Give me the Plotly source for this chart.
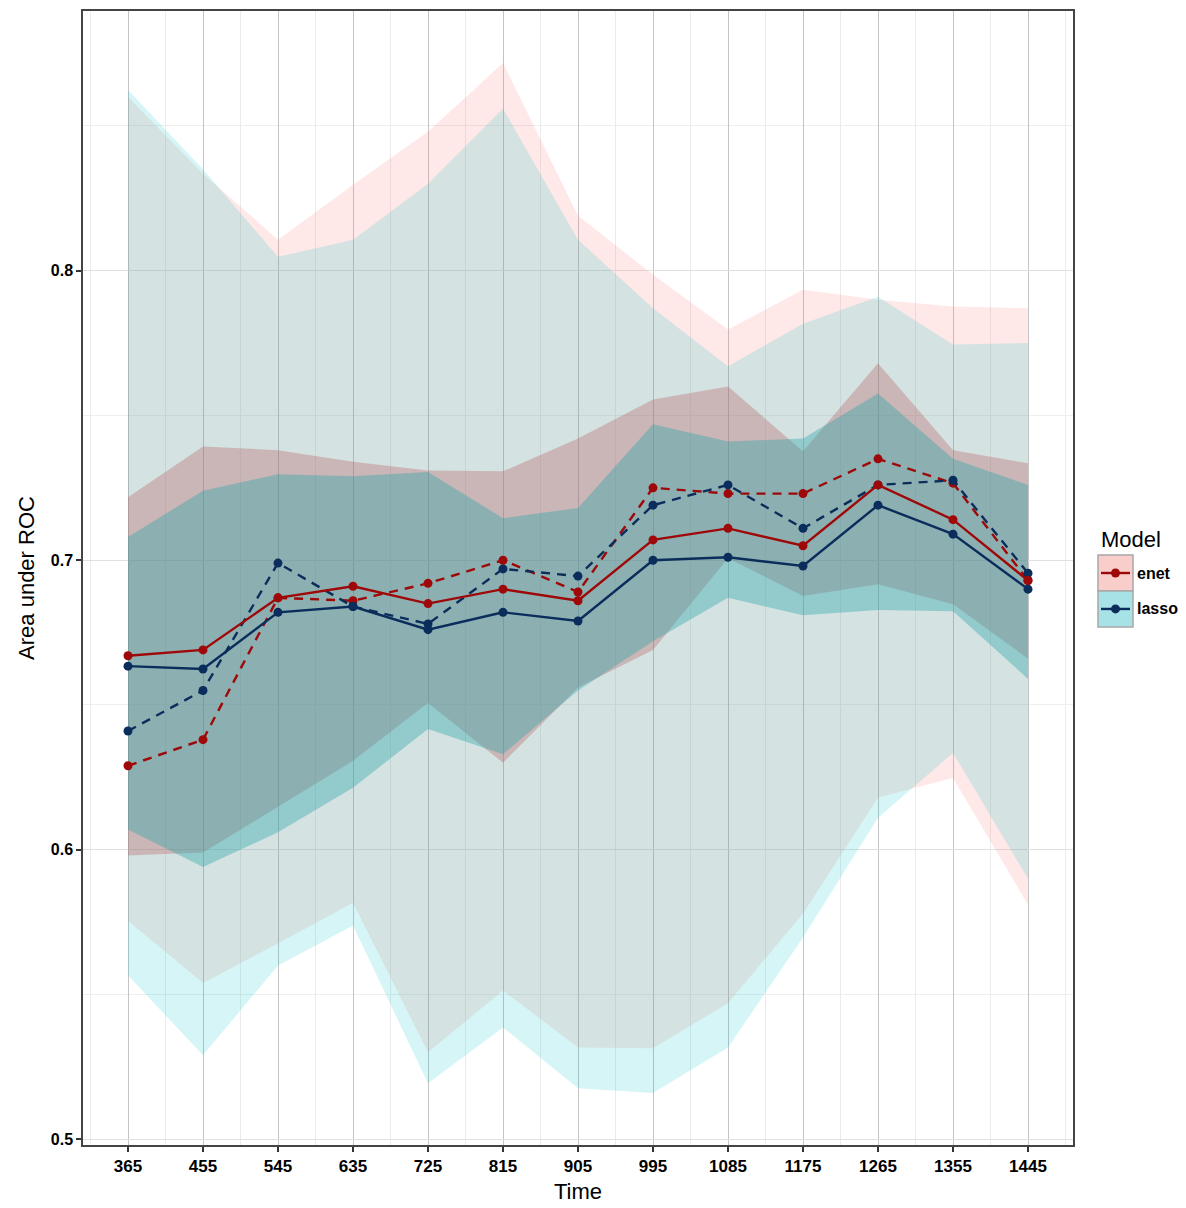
import plotly.graph_objects as go

# ---------------- data ----------------
time = [365, 455, 545, 635, 725, 815, 905, 995, 1085, 1175, 1265, 1355, 1445]
time_labels = [str(t) for t in time]

enet_mean = [0.667, 0.669, 0.687, 0.691, 0.685, 0.690, 0.686, 0.707, 0.711, 0.705, 0.726, 0.714, 0.693]
lasso_mean = [0.6634, 0.6624, 0.682, 0.684, 0.676, 0.682, 0.679, 0.700, 0.701, 0.698, 0.719, 0.709, 0.690]
enet_median = [0.629, 0.638, 0.687, 0.686, 0.692, 0.700, 0.689, 0.725, 0.723, 0.723, 0.735, 0.7266, 0.693]
lasso_median = [0.641, 0.655, 0.699, 0.684, 0.678, 0.697, 0.6945, 0.719, 0.726, 0.711, 0.726, 0.7276, 0.6955]

enet_inner_lo = [0.598, 0.599, 0.615, 0.6307, 0.6507, 0.630, 0.656, 0.669, 0.7007, 0.6876, 0.6917, 0.6848, 0.666]
enet_inner_hi = [0.7217, 0.7393, 0.738, 0.734, 0.731, 0.7307, 0.742, 0.7555, 0.760, 0.7376, 0.768, 0.738, 0.7335]
lasso_inner_lo = [0.607, 0.594, 0.606, 0.6214, 0.6417, 0.633, 0.655, 0.672, 0.687, 0.681, 0.6828, 0.6824, 0.659]
lasso_inner_hi = [0.708, 0.724, 0.7297, 0.729, 0.7305, 0.7145, 0.718, 0.747, 0.741, 0.742, 0.7576, 0.735, 0.726]

enet_outer_lo = [0.5755, 0.554, 0.5676, 0.5817, 0.530, 0.5514, 0.5317, 0.5314, 0.547, 0.578, 0.618, 0.6248, 0.581]
enet_outer_hi = [0.860, 0.8335, 0.8107, 0.8297, 0.848, 0.8717, 0.819, 0.7986, 0.7797, 0.7934, 0.790, 0.7876, 0.787]
lasso_outer_lo = [0.5566, 0.529, 0.560, 0.5738, 0.5193, 0.5386, 0.5176, 0.516, 0.5317, 0.5697, 0.611, 0.6334, 0.590]
lasso_outer_hi = [0.8624, 0.835, 0.8048, 0.8107, 0.830, 0.856, 0.8107, 0.787, 0.767, 0.7817, 0.791, 0.7745, 0.775]

y_ticks = [0.5, 0.6, 0.7, 0.8]
y_minor = [0.55, 0.65, 0.75, 0.85]
models = ["enet", "lasso"]

# ---------------- style ----------------
RED = "#9e0808"
BLUE = "#0b2d5c"
FONT = "Liberation Sans"
OFF = 8  # default page margin of the html body
W, H = 1186 - OFF, 1208 - OFF
ML, MR, MT, MB = 83 - OFF, 113, 9 - OFF, 63

fig = go.Figure()


def band(lo, hi, color):
    fig.add_trace(go.Scatter(
        x=time + time[::-1], y=hi + lo[::-1], fill="toself", fillcolor=color,
        mode="lines", line=dict(width=0, color="rgba(0,0,0,0)"),
        hoverinfo="skip", showlegend=False))


band(enet_outer_lo, enet_outer_hi, "rgba(248,118,109,0.16)")
band(lasso_outer_lo, lasso_outer_hi, "rgba(0,191,196,0.16)")
band(enet_inner_lo, enet_inner_hi, "rgba(180,95,95,0.33)")
band(lasso_inner_lo, lasso_inner_hi, "rgba(40,165,172,0.38)")


def line(y, color, dash, name):
    fig.add_trace(go.Scatter(
        x=time, y=y, mode="lines+markers", name=name,
        line=dict(color=color, width=2.4, dash=dash),
        marker=dict(size=9, color=color), showlegend=False))


line(enet_median, RED, "9px,7px", "enet")
line(lasso_median, BLUE, "9px,7px", "lasso")
line(enet_mean, RED, "solid", "enet")
line(lasso_mean, BLUE, "solid", "lasso")

x_minor = [time[0] - 45] + [t + 45 for t in time]

fig.update_layout(
    width=W, height=H,
    margin=dict(l=ML, r=MR, t=MT, b=MB),
    paper_bgcolor="white", plot_bgcolor="white",
    font=dict(family=FONT, color="black"),
    showlegend=False,
    xaxis=dict(
        range=[311, 1499], tickvals=time, ticktext=time_labels,
        showgrid=True, gridcolor="#c4c4c4", gridwidth=1.4,
        minor=dict(tickvals=x_minor, showgrid=True, gridcolor="#ebebeb", gridwidth=1.4, ticks=""),
        ticks="outside", ticklen=5, tickcolor="#333", tickwidth=1.5,
        showline=True, mirror=True, linecolor="#444", linewidth=1.5,
        zeroline=False,
        tickfont=dict(size=17, family=FONT, weight="bold", color="black"),
        title=dict(text="Time", font=dict(size=22, family=FONT), standoff=8),
    ),
    yaxis=dict(
        range=[0.498, 0.8897], tickvals=y_ticks, ticktext=[f"{v:.1f}" for v in y_ticks],
        showgrid=True, gridcolor="#e0e0e0", gridwidth=1.2,
        minor=dict(tickvals=y_minor, showgrid=True, gridcolor="#eeeeee", gridwidth=1.2, ticks=""),
        ticks="outside", ticklen=5, tickcolor="#333", tickwidth=1.5,
        showline=True, mirror=True, linecolor="#444", linewidth=1.5,
        zeroline=False,
        tickfont=dict(size=16, family=FONT, weight="bold", color="black"),
        title=dict(text="Area under ROC", font=dict(size=22, family=FONT), standoff=10),
    ),
)

# ---------------- manual legend (ggplot-style keys) ----------------
PW = W - ML - MR
PH = H - MT - MB


def px(x):
    return (x - OFF - ML) / PW


def py(y):
    return (H - MB - (y - OFF)) / PH


key_fill = {"enet": "#f9cdca", "lasso": "#a6e2e6"}
key_line = {"enet": RED, "lasso": BLUE}
shapes = []
annotations = [dict(x=px(1099), y=py(538), xref="paper", yref="paper", text="Model",
                    showarrow=False, xanchor="left", yanchor="middle",
                    font=dict(size=22, family=FONT, color="black"))]
for i, m in enumerate(models):
    top = 554 + i * 36
    bot = top + 36
    cy = (top + bot) / 2
    shapes.append(dict(type="rect", xref="paper", yref="paper",
                       x0=px(1098), x1=px(1133), y0=py(bot), y1=py(top),
                       fillcolor=key_fill[m], line=dict(color="#a8a8a8", width=1.5)))
    shapes.append(dict(type="line", xref="paper", yref="paper",
                       x0=px(1101), x1=px(1130), y0=py(cy), y1=py(cy),
                       line=dict(color=key_line[m], width=2.4)))
    shapes.append(dict(type="circle", xref="paper", yref="paper",
                       x0=px(1111), x1=px(1120), y0=py(cy + 4.5), y1=py(cy - 4.5),
                       fillcolor=key_line[m], line=dict(color=key_line[m], width=0)))
    annotations.append(dict(x=px(1135), y=py(cy), xref="paper", yref="paper", text=m,
                            showarrow=False, xanchor="left", yanchor="middle",
                            font=dict(size=16, family=FONT, weight="bold", color="black")))

fig.update_layout(shapes=shapes, annotations=annotations)

fig.write_html("out.html")
